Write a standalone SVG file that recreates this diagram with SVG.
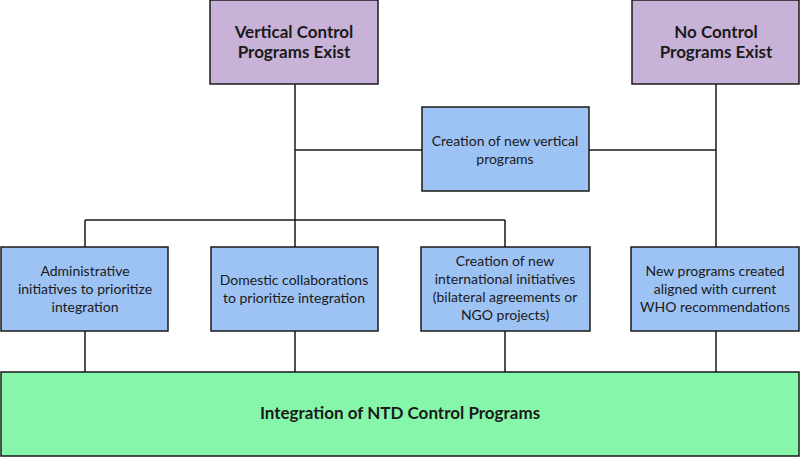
<svg xmlns="http://www.w3.org/2000/svg" width="800" height="457" viewBox="0 0 800 457">
<style>
.box{stroke:#1a1a1a;stroke-width:1.5}
.p{fill:#c9b2d8}
.b{fill:#9dc3f4}
.g{fill:#86f7aa}
.t{font-family:Lato,"Liberation Sans",sans-serif;font-size:14px;fill:#1a1a1a;text-anchor:middle}
.h{font-family:Lato,"Liberation Sans",sans-serif;font-size:17px;font-weight:bold;fill:#1a1a1a;text-anchor:middle}
.c{stroke:#1a1a1a;stroke-width:1.5;fill:none}
</style>
<rect width="800" height="457" fill="#ffffff"/>
<g id="connectors">
<path class="c" d="M295 84V372M716 84V372M295 150H716M85 220H505M85 220V372M505 220V372"/>
</g>
<g id="vertical-exist">
<rect class="box p" x="210" y="0" width="168" height="84"/>
<text class="h" x="294" y="38">Vertical Control</text>
<text class="h" x="294" y="58">Programs Exist</text>
</g>
<g id="no-control">
<rect class="box p" x="632" y="0" width="167" height="84"/>
<text class="h" x="716" y="38">No Control</text>
<text class="h" x="716" y="58">Programs Exist</text>
</g>
<g id="new-vertical">
<rect class="box b" x="422" y="107" width="167" height="84"/>
<text class="t" x="505" y="146">Creation of new vertical</text>
<text class="t" x="505" y="164">programs</text>
</g>
<g id="administrative">
<rect class="box b" x="1" y="247" width="167" height="84"/>
<text class="t" x="85" y="276">Administrative</text>
<text class="t" x="85" y="294">initiatives to prioritize</text>
<text class="t" x="85" y="312">integration</text>
</g>
<g id="domestic">
<rect class="box b" x="211" y="247" width="167" height="84"/>
<text class="t" x="294" y="285">Domestic collaborations</text>
<text class="t" x="294" y="303">to prioritize integration</text>
</g>
<g id="international">
<rect class="box b" x="421" y="247" width="169" height="84"/>
<text class="t" x="505" y="266">Creation of new</text>
<text class="t" x="505" y="284">international initiatives</text>
<text class="t" x="505" y="302">(bilateral agreements or</text>
<text class="t" x="505" y="320">NGO projects)</text>
</g>
<g id="who">
<rect class="box b" x="631" y="247" width="168" height="84"/>
<text class="t" x="715" y="276">New programs created</text>
<text class="t" x="715" y="294">aligned with current</text>
<text class="t" x="715" y="312">WHO recommendations</text>
</g>
<g id="integration">
<rect class="box g" x="1" y="372" width="798" height="84"/>
<text class="h" x="400" y="419">Integration of NTD Control Programs</text>
</g>
</svg>
